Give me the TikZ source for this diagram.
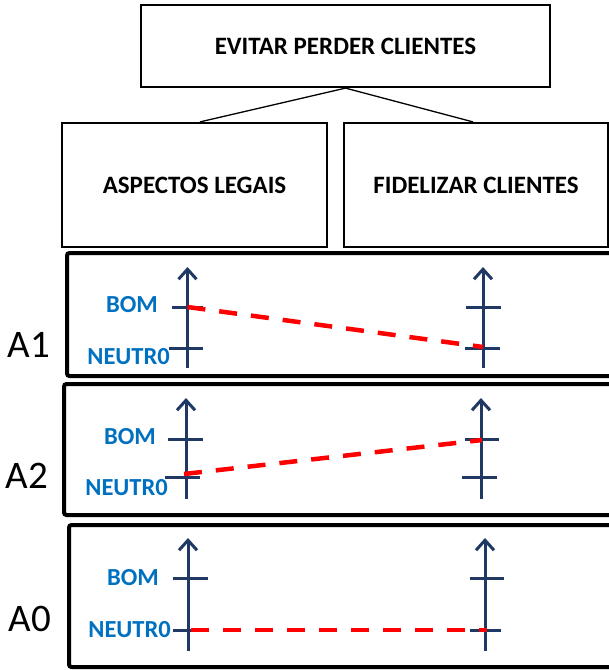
\documentclass[tikz,border=0pt]{standalone}
\usepackage{fontspec}
\setmainfont{Carlito}
\usetikzlibrary{arrows.meta,calc}

\definecolor{axisnavy}{RGB}{31,56,100}
\definecolor{labelblue}{RGB}{0,112,192}
\definecolor{trendred}{RGB}{255,0,0}

\tikzset{
  goalbox/.style={draw=black, line width=2.2pt, inner sep=0pt,
    font=\fontsize{25}{29}\selectfont\bfseries},
  panel/.style={draw=black, line width=4pt, rounded corners=2.5pt,
    minimum width=600pt, anchor=west, inner sep=0pt},
  rowlabel/.style={inner sep=0pt, font=\fontsize{39}{44}\selectfont},
  levellabel/.style={inner sep=0pt, anchor=east, text=labelblue,
    font=\fontsize{24.5}{28}\selectfont\bfseries},
  axisline/.style={draw=axisnavy, line width=3pt,
    -{Straight Barb[length=10pt,width=18pt,line width=3pt]}},
  tickmark/.style={draw=axisnavy, line width=3pt},
  trend/.style={draw=trendred, line width=4.5pt, dash pattern=on 18pt off 14pt},
  link/.style={draw=black, line width=1.3pt}
}

\begin{document}
\begin{tikzpicture}[x=1pt,y=-1pt]
\useasboundingbox (0,0) rectangle (609,670);
\clip (0,0) rectangle (609,670);

% goal tree
\node[goalbox, minimum width=409pt, minimum height=82pt] (goal) at (345.5,46) {EVITAR PERDER CLIENTES};
\node[goalbox, minimum width=265pt, minimum height=124pt] (legal) at (194.5,185) {ASPECTOS LEGAIS};
\node[goalbox, minimum width=264pt, minimum height=124pt] (loyal) at (476,185) {FIDELIZAR CLIENTES};
\draw[link] (goal.south) -- ([xshift=5.5pt]legal.north);
\draw[link] (goal.south) -- ([xshift=-3pt]loyal.north);

% alternative panels
\node[panel, minimum height=123pt] (p1) at (65,314.5) {};
\node[panel, minimum height=131pt] (p2) at (62,449.5) {};
\node[panel, minimum height=142pt] (p0) at (67,596) {};

\node[rowlabel] (r1) at (29,345) {A1};
\node[rowlabel] (r2) at (27,476) {A2};
\node[rowlabel] (r0) at (30,619) {A0};

% ---- A1 ----
\coordinate (a1Lb) at (187.5,368); \coordinate (a1Lt) at (187.5,267);
\coordinate (a1Rb) at (483,368);   \coordinate (a1Rt) at (483,267);
\coordinate (a1Lbom) at (187.5,307); \coordinate (a1Lneu) at (187.5,348);
\coordinate (a1Rbom) at (483,307);   \coordinate (a1Rneu) at (483,348);
\draw[axisline] (a1Lb) -- (a1Lt);
\draw[axisline] (a1Rb) -- (a1Rt);
\draw[tickmark] ([xshift=-16pt]a1Lbom) -- ([xshift=15pt]a1Lbom);
\draw[tickmark] ([xshift=-19pt]a1Lneu) -- ([xshift=15pt]a1Lneu);
\draw[tickmark] ([xshift=-17pt]a1Rbom) -- ([xshift=18pt]a1Rbom);
\draw[tickmark] ([xshift=-18pt]a1Rneu) -- ([xshift=17pt]a1Rneu);
\node[levellabel] (a1bom) at (158,305) {BOM};
\node[levellabel] (a1neu) at (170,357) {NEUTR0};
\draw[trend] (a1Lbom) -- ([yshift=1pt]a1Rneu);

% ---- A2 ----
\coordinate (a2Lb) at (186,499); \coordinate (a2Lt) at (186,398);
\coordinate (a2Rb) at (481,499); \coordinate (a2Rt) at (481,398);
\coordinate (a2Lbom) at (186,439); \coordinate (a2Lneu) at (186,477);
\coordinate (a2Rbom) at (481,439); \coordinate (a2Rneu) at (481,477);
\draw[axisline] (a2Lb) -- (a2Lt);
\draw[axisline] (a2Rb) -- (a2Rt);
\draw[tickmark] ([xshift=-18pt]a2Lbom) -- ([xshift=17pt]a2Lbom);
\draw[tickmark] ([xshift=-21pt]a2Lneu) -- ([xshift=14pt]a2Lneu);
\draw[tickmark] ([xshift=-16pt]a2Rbom) -- ([xshift=18pt]a2Rbom);
\draw[tickmark] ([xshift=-19pt]a2Rneu) -- ([xshift=16pt]a2Rneu);
\node[levellabel] (a2bom) at (156,437) {BOM};
\node[levellabel] (a2neu) at (168,488) {NEUTR0};
\draw[trend] ([xshift=-2pt,yshift=3pt]a2Lneu) -- ([xshift=1pt,yshift=-1pt]a2Rbom);

% ---- A0 ----
\coordinate (a0Lb) at (188,651); \coordinate (a0Lt) at (188,538);
\coordinate (a0Rb) at (485,651); \coordinate (a0Rt) at (485,538);
\coordinate (a0Lbom) at (188,578); \coordinate (a0Lneu) at (188,630);
\coordinate (a0Rbom) at (485,578); \coordinate (a0Rneu) at (485,630);
\draw[axisline] (a0Lb) -- (a0Lt);
\draw[axisline] (a0Rb) -- (a0Rt);
\draw[tickmark] ([xshift=-15pt]a0Lbom) -- ([xshift=20pt]a0Lbom);
\draw[tickmark] ([xshift=-15pt]a0Lneu) -- ([xshift=3pt]a0Lneu);
\draw[tickmark] ([xshift=-15pt]a0Rbom) -- ([xshift=19pt]a0Rbom);
\draw[tickmark] ([xshift=-15pt]a0Rneu) -- ([xshift=16pt]a0Rneu);
\node[levellabel] (a0bom) at (159,578) {BOM};
\node[levellabel] (a0neu) at (171,630) {NEUTR0};
\draw[trend] ([xshift=3pt]a0Lneu) -- ([xshift=2pt]a0Rneu);
\end{tikzpicture}
\end{document}
